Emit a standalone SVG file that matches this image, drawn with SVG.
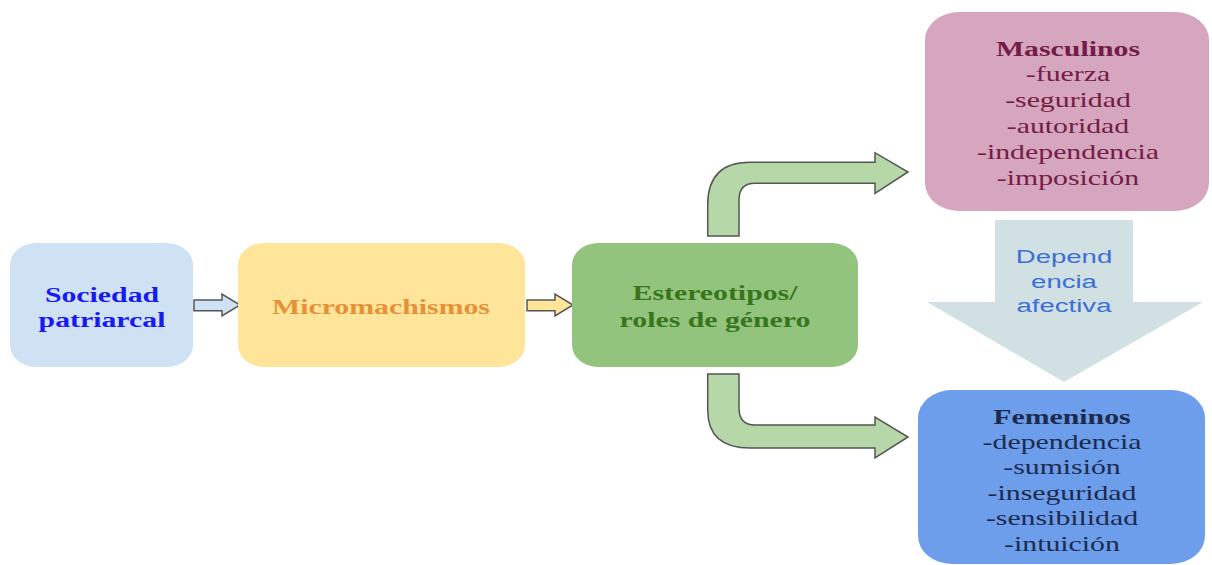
<svg xmlns="http://www.w3.org/2000/svg" width="1212" height="565" viewBox="0 0 1212 565">
<style>
.t{font-family:"Liberation Serif","Times New Roman",serif;font-size:21px;text-anchor:middle}
.b{font-weight:bold}
.s{font-family:"Liberation Sans",Arial,sans-serif;font-size:19px;text-anchor:middle;fill:#3c6fd6}
.arr{stroke:#555;stroke-width:1.5;stroke-linejoin:miter}
</style>
<rect width="1212" height="565" fill="#fff"/>
<g id="connectors">
<path class="arr" fill="#cfe2f3" d="M194 300 L222 300 L222 294 L240 305 L222 316 L222 310.7 L194 310.7 Z"/>
<path class="arr" fill="#ffe599" d="M527 300 L555 300 L555 294 L573 305 L555 316 L555 310.7 L527 310.7 Z"/>
<path class="arr" fill="#b6d7a8" d="M707.7 236 L707.7 205 Q707.7 162.3 750 162.3 L875 162.3 L875 152.7 L908 172 L875 193.3 L875 183.3 L755 183.3 Q739 183.3 739 200 L739 236 Z"/>
<path class="arr" fill="#b6d7a8" d="M707.7 374 L739 374 L739 408 Q739 425 755 425 L875 425 L875 417 L908 437 L875 458 L875 448 L750 448 Q707.7 448 707.7 410 Z"/>
<path fill="#d0e0e3" d="M995 220 L1133 220 L1133 302 L1203 302 L1064 382 L927 302 L995 302 Z"/>
<text class="s" transform="translate(1064,0) scale(1.45,1)"><tspan x="0" y="263">Depend</tspan><tspan x="0" y="288">encia</tspan><tspan x="0" y="312">afectiva</tspan></text>
</g>
<g id="sociedad">
<rect x="10" y="243" width="183" height="124" rx="26" ry="22" fill="#cfe2f3"/>
<text class="t b" fill="#1a1af0" transform="translate(102,0) scale(1.42,1)"><tspan x="0" y="302">Sociedad</tspan><tspan x="0" y="327">patriarcal</tspan></text>
</g>
<g id="micromachismos">
<rect x="238" y="243" width="287" height="124" rx="26" ry="22" fill="#ffe599"/>
<text class="t b" fill="#e69138" transform="translate(381,0) scale(1.42,1)"><tspan x="0" y="314">Micromachismos</tspan></text>
</g>
<g id="estereotipos">
<rect x="572" y="243" width="286" height="124" rx="26" ry="22" fill="#93c47d"/>
<text class="t b" fill="#38761d" transform="translate(715,0) scale(1.42,1)"><tspan x="0" y="300">Estereotipos/</tspan><tspan x="0" y="327">roles de género</tspan></text>
</g>
<g id="masculinos">
<rect x="925" y="12" width="284" height="199" rx="34" ry="28" fill="#d5a6bd"/>
<text class="t" fill="#741b47" transform="translate(1068,0) scale(1.42,1)"><tspan class="b" x="0" y="56">Masculinos</tspan><tspan x="0" y="81">-fuerza</tspan><tspan x="0" y="107">-seguridad</tspan><tspan x="0" y="133">-autoridad</tspan><tspan x="0" y="159">-independencia</tspan><tspan x="0" y="185">-imposición</tspan></text>
</g>
<g id="femeninos">
<rect x="918" y="390" width="287" height="174" rx="34" ry="28" fill="#6d9eeb"/>
<text class="t" fill="#1c2b4d" transform="translate(1062,0) scale(1.42,1)"><tspan class="b" x="0" y="424">Femeninos</tspan><tspan x="0" y="449">-dependencia</tspan><tspan x="0" y="474">-sumisión</tspan><tspan x="0" y="500">-inseguridad</tspan><tspan x="0" y="525">-sensibilidad</tspan><tspan x="0" y="551">-intuición</tspan></text>
</g>
</svg>
